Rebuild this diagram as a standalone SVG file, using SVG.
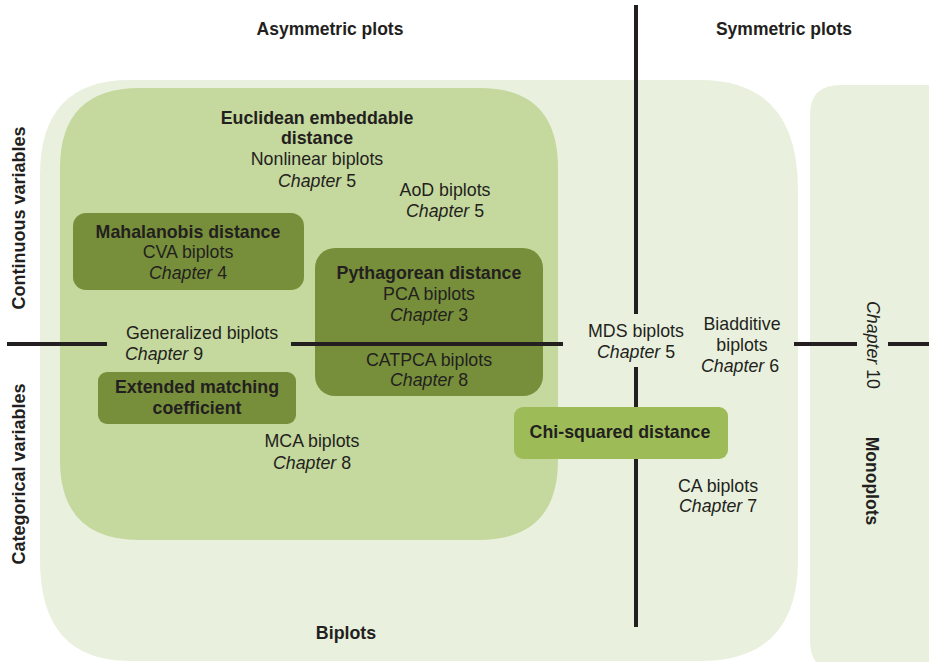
<svg xmlns="http://www.w3.org/2000/svg" width="929" height="662" viewBox="0 0 929 662">
<style>
text{font-family:"Liberation Sans",Arial,sans-serif;font-size:17.8px;fill:#231f20;text-anchor:middle}
.b{font-weight:bold}
.h{font-weight:bold;font-size:17.5px}
.i{font-style:italic}
.ax{stroke:#231f20;stroke-width:4;fill:none}
</style>
<rect width="929" height="662" fill="#ffffff"/>
<g id="biplots-region">
<path d="M130,80 H700 Q798,80 798,190 V560 Q798,661 700,661 H130 Q40,661 40,560 V175 Q40,80 130,80 Z" fill="#e9f1de"/>
<text class="b" x="346" y="639">Biplots</text>
</g>
<g id="monoplots-region">
<path d="M840,85 H940 V672 H840 Q810,672 810,640 V115 Q810,85 840,85 Z" fill="#e9f1de"/>
</g>
<g id="euclidean">
<path d="M140,88 H480 Q558,88 558,168 V460 Q558,540 478,540 H140 Q60,540 60,460 V168 Q60,88 140,88 Z" fill="#c5d89d"/>
<text class="b" x="317" y="124">Euclidean embeddable</text>
<text class="b" x="317" y="144">distance</text>
<text x="317" y="165">Nonlinear biplots</text>
<text x="317" y="187"><tspan class="i">Chapter</tspan> 5</text>
</g>
<g id="aod">
<text x="445" y="196">AoD biplots</text>
<text x="445" y="217"><tspan class="i">Chapter</tspan> 5</text>
</g>
<g id="mahalanobis">
<rect x="73" y="213" width="231" height="77" rx="13" fill="#778f3a"/>
<text class="b" x="188" y="238">Mahalanobis distance</text>
<text x="188" y="258">CVA biplots</text>
<text x="188" y="279"><tspan class="i">Chapter</tspan> 4</text>
</g>
<g id="pythagorean">
<rect x="315" y="248" width="228" height="148" rx="20" fill="#778f3a"/>
<text class="b" x="429" y="279">Pythagorean distance</text>
<text x="429" y="300">PCA biplots</text>
<text x="429" y="321"><tspan class="i">Chapter</tspan> 3</text>
<text x="429" y="366">CATPCA biplots</text>
<text x="429" y="386"><tspan class="i">Chapter</tspan> 8</text>
</g>
<g id="connectors">
<path class="ax" d="M636,5 V314 M636,367 V407 M636,458 V627"/>
<path class="ax" d="M7,344 H107 M291,344 H563 M794,344 H857 M888,344 H929"/>
</g>
<g id="generalized">
<text x="202" y="339">Generalized biplots</text>
<text x="125" y="360" style="text-anchor:start"><tspan class="i">Chapter</tspan> 9</text>
</g>
<g id="extended">
<rect x="98" y="372" width="198" height="52" rx="9" fill="#778f3a"/>
<text class="b" x="197" y="393">Extended matching</text>
<text class="b" x="197" y="414">coefficient</text>
</g>
<g id="mca">
<text x="312" y="447">MCA biplots</text>
<text x="312" y="469"><tspan class="i">Chapter</tspan> 8</text>
</g>
<g id="chisquared">
<rect x="514" y="407" width="214" height="52" rx="9" fill="#9dbc58"/>
<text class="b" x="620" y="438">Chi-squared distance</text>
</g>
<g id="mds">
<text x="636" y="337">MDS biplots</text>
<text x="636" y="358"><tspan class="i">Chapter</tspan> 5</text>
</g>
<g id="biadditive">
<text x="742" y="330">Biadditive</text>
<text x="742" y="351">biplots</text>
<text x="740" y="372"><tspan class="i">Chapter</tspan> 6</text>
</g>
<g id="ca">
<text x="718" y="492">CA biplots</text>
<text x="718" y="512"><tspan class="i">Chapter</tspan> 7</text>
</g>
<g id="headings">
<text class="h" x="330" y="35">Asymmetric plots</text>
<text class="h" x="784" y="35">Symmetric plots</text>
<text class="h" transform="translate(25,218) rotate(-90)" style="font-size:18px">Continuous variables</text>
<text class="h" transform="translate(25,474) rotate(-90)" style="font-size:18px">Categorical variables</text>
<text transform="translate(867,345) rotate(90)"><tspan class="i">Chapter</tspan> 10</text>
<text class="h" transform="translate(866,481) rotate(90)">Monoplots</text>
</g>
</svg>
